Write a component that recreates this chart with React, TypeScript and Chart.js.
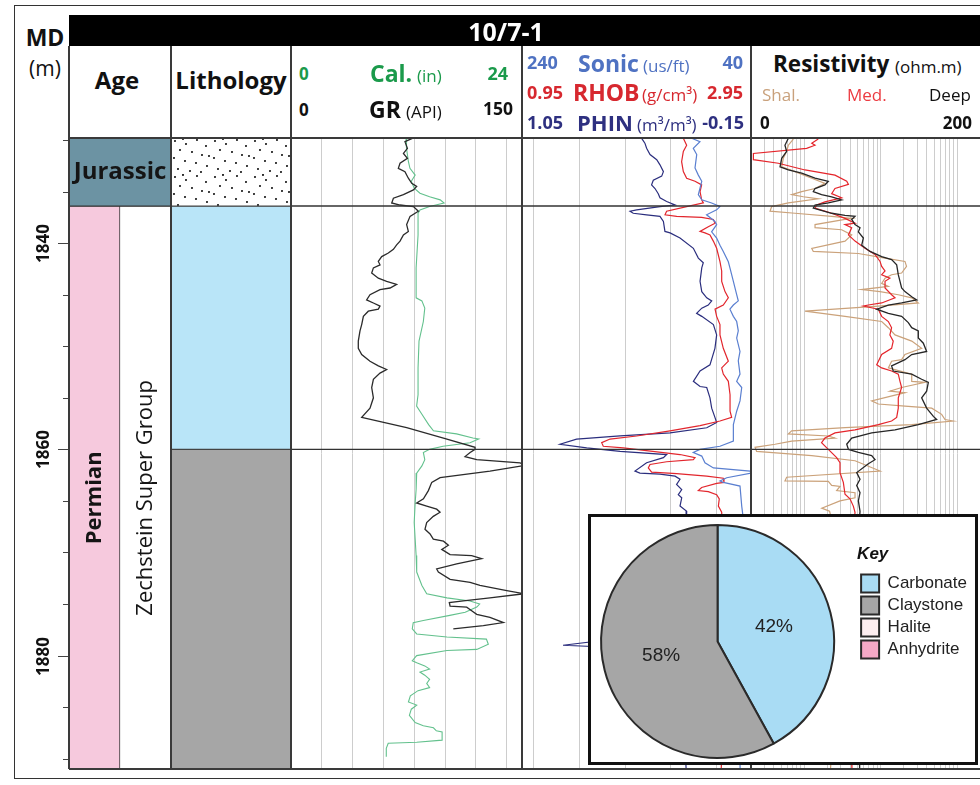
import React, { useEffect, useRef } from 'react';
import { Chart, registerables } from 'chart.js';

Chart.register(...registerables);

const SANS = "'Open Sans', 'Noto Sans', 'DejaVu Sans', sans-serif";
const ARIAL = "'Liberation Sans', Arial, Helvetica, sans-serif";

// ---------------- depth axis ----------------
const DEPTH_MIN = 1829.8;
const DEPTH_MAX = 1891.0;
const DEPTH_LABELLED_TICKS = [1840, 1860, 1880];
const DEPTH_MINOR_TICKS = [1830, 1835, 1845, 1850, 1855, 1865, 1870, 1875, 1885, 1890];
const FORMATION_TOPS = [1836.4, 1860.0];

// ---------------- stratigraphy ----------------
const PERIOD_NAMES = ['Jurassic', 'Permian'];
const PERIOD_TOPS = [1829.8, 1836.4];
const PERIOD_BASES = [1836.4, 1893.0];
const GROUP_NAMES = ['Zechstein Super Group'];
const GROUP_TOPS = [1836.4];
const GROUP_BASES = [1893.0];
const LITH_NAMES = ['Sandstone', 'Carbonate', 'Claystone'];
const LITH_TOPS = [1829.8, 1836.4, 1860.0];
const LITH_BASES = [1836.4, 1860.0, 1893.0];

// ---------------- grid values ----------------
const GR_GRID = [20, 40, 60, 80, 100, 120, 140];
const SONIC_GRID = [230, 190, 150, 110, 70];
const RES_GRID = [0.3, 0.4, 0.5, 0.6, 0.7, 0.8, 0.9, 1, 2, 3, 4, 5, 6, 7, 8, 9, 10, 20, 30, 40, 50, 60, 70, 80, 90, 100];

// ---------------- logs: [depth m, value] ----------------
const GR_LOG: number[][] = [[1829.83,78.8],[1830.15,74.0],[1830.8,75.6],[1831.3,73.0],[1831.77,75.6],[1832.25,70.8],[1832.74,69.7],[1833.06,74.0],[1833.7,76.2],[1834.2,78.4],[1834.5,81.6],[1834.83,79.5],[1835.3,73.0],[1835.64,66.5],[1836.1,65.4],[1836.3,70.8],[1836.45,79.5],[1836.9,82.7],[1837.4,77.3],[1838.2,75.1],[1838.86,76.2],[1839.2,73.0],[1839.8,70.8],[1840.16,68.6],[1840.6,66.5],[1840.96,63.2],[1841.3,58.9],[1841.77,56.7],[1842.1,57.8],[1842.4,53.5],[1842.9,52.4],[1843.4,56.7],[1843.7,62.1],[1844.0,68.6],[1844.35,64.3],[1844.5,57.8],[1845.0,51.3],[1845.5,49.1],[1845.8,53.5],[1846.1,57.8],[1846.4,56.7],[1846.6,50.2],[1847.1,47.0],[1847.9,45.9],[1848.5,44.8],[1849.5,43.7],[1850.2,43.7],[1850.8,45.9],[1851.45,51.3],[1851.9,56.7],[1852.25,62.1],[1852.6,57.8],[1853.2,53.5],[1854.0,52.4],[1855.0,53.5],[1856.0,51.3],[1856.9,45.9],[1857.9,75.1],[1858.9,99.0],[1859.8,119.5],[1860.0,119.5],[1860.3,116.3],[1860.7,113.0],[1861.0,120.6],[1861.3,148.7],[1861.56,151.5],[1862.1,129.2],[1862.75,96.8],[1863.2,91.4],[1864.0,89.2],[1864.8,86.0],[1865.2,81.6],[1865.5,88.1],[1865.8,94.6],[1866.1,96.8],[1866.5,92.4],[1867.1,88.1],[1867.75,87.0],[1868.2,90.3],[1868.7,92.4],[1868.9,99.0],[1869.3,102.2],[1869.7,97.9],[1870.2,103.3],[1870.3,117.3],[1870.6,123.8],[1871.1,107.6],[1871.6,94.6],[1871.9,95.7],[1872.6,103.3],[1872.9,116.3],[1873.2,122.7],[1873.7,140.1],[1874.0,151.5],[1874.4,129.2],[1874.7,111.9],[1874.85,102.8],[1875.2,103.3],[1875.3,114.1],[1875.65,117.3],[1876.0,120.6],[1876.3,129.2],[1876.8,137.9],[1877.1,124.9],[1877.4,105.4]];

const CAL_LOG: number[][] = [[1829.8,11.95],[1830.8,12.0],[1832.1,12.2],[1832.74,12.36],[1833.4,12.9],[1834.0,12.5],[1834.67,12.8],[1835.15,13.4],[1835.5,14.4],[1835.8,15.5],[1836.1,15.9],[1836.45,14.4],[1836.77,13.4],[1837.1,13.2],[1839.2,13.2],[1842.4,13.0],[1845.3,13.0],[1845.6,13.6],[1846.3,13.9],[1847.6,13.75],[1849.5,13.3],[1852.1,13.2],[1854.7,13.2],[1855.8,13.05],[1856.6,13.6],[1857.6,14.3],[1858.2,14.8],[1858.5,17.2],[1858.9,18.9],[1859.0,19.5],[1859.35,18.6],[1859.7,15.8],[1860.0,14.4],[1860.3,13.75],[1861.0,13.9],[1861.6,13.6],[1862.3,13.06],[1863.9,13.0],[1865.2,12.9],[1867.1,12.8],[1868.7,12.9],[1870.3,13.0],[1871.9,13.06],[1873.2,13.6],[1874.0,14.1],[1874.4,16.2],[1874.7,18.6],[1875.0,19.6],[1875.3,19.3],[1875.8,18.1],[1876.1,16.5],[1876.6,13.75],[1876.8,12.7],[1877.4,12.6],[1877.9,13.06],[1878.2,16.2],[1878.4,20.3],[1878.9,20.5],[1879.4,19.3],[1879.5,16.2],[1880.0,13.06],[1880.5,12.6],[1880.7,13.06],[1881.0,13.9],[1881.3,14.4],[1881.6,13.4],[1881.9,13.9],[1882.3,14.4],[1882.7,14.1],[1883.1,14.4],[1883.4,13.2],[1883.9,12.4],[1884.5,12.2],[1884.8,13.06],[1885.2,12.5],[1885.8,12.3],[1886.5,12.9],[1886.8,13.75],[1887.0,14.8],[1887.3,15.1],[1887.4,15.7],[1888.2,15.7],[1888.4,13.06],[1888.5,10.1],[1889.0,9.9],[1889.8,9.9]];

const SONIC_LOG: number[][] = [[1829.83,91.8],[1830.15,84.6],[1830.8,90.4],[1831.4,87.4],[1832.7,88.9],[1833.4,86.0],[1834.0,83.0],[1834.7,84.6],[1835.3,86.0],[1835.8,83.0],[1836.1,74.4],[1836.45,67.1],[1836.77,70.0],[1837.25,78.8],[1837.9,71.5],[1838.2,70.0],[1838.9,74.4],[1839.5,70.0],[1840.2,67.1],[1840.8,64.2],[1841.8,59.8],[1842.4,58.4],[1843.06,56.9],[1843.7,55.4],[1845.0,52.5],[1845.6,51.1],[1846.0,55.4],[1846.4,58.4],[1847.1,55.4],[1847.6,52.5],[1848.5,51.1],[1849.2,52.5],[1850.5,49.6],[1851.4,51.1],[1852.7,49.6],[1853.4,52.5],[1854.0,48.1],[1855.3,49.6],[1856.3,52.5],[1857.6,55.4],[1859.2,55.4],[1859.7,67.1],[1860.0,84.6],[1860.3,90.4],[1860.65,83.0],[1861.3,80.2],[1861.8,72.8],[1862.1,40.8],[1862.3,39.4],[1862.75,61.2],[1863.07,67.1],[1863.2,64.2],[1863.56,49.6],[1865.5,48.1],[1866.3,47.2],[1868.5,50.0],[1871.0,48.5],[1874.0,51.0],[1877.0,49.0],[1880.0,50.5],[1884.0,48.5],[1888.0,50.0],[1891.0,49.5]];

const RHOB_LOG: number[][] = [[1829.83,2.359],[1830.5,2.388],[1831.1,2.359],[1832.1,2.344],[1833.06,2.359],[1833.7,2.388],[1834.0,2.461],[1834.35,2.519],[1835.0,2.505],[1835.8,2.519],[1836.1,2.534],[1836.45,2.388],[1836.9,2.213],[1837.25,2.199],[1837.4,2.301],[1837.5,2.519],[1837.7,2.621],[1838.06,2.636],[1838.4,2.577],[1838.86,2.505],[1839.0,2.548],[1839.2,2.592],[1839.8,2.621],[1840.5,2.650],[1841.8,2.679],[1842.7,2.694],[1843.7,2.694],[1844.7,2.723],[1845.3,2.752],[1846.0,2.708],[1846.4,2.636],[1847.1,2.650],[1847.9,2.679],[1848.9,2.679],[1850.2,2.708],[1851.45,2.752],[1852.1,2.694],[1852.7,2.708],[1853.4,2.752],[1854.7,2.767],[1856.3,2.767],[1856.9,2.781],[1857.25,2.679],[1857.7,2.505],[1858.2,2.243],[1858.7,1.951],[1859.0,1.719],[1859.35,1.646],[1859.7,1.660],[1859.85,1.835],[1860.5,2.330],[1860.8,2.461],[1861.0,2.446],[1861.2,2.213],[1861.46,2.068],[1861.8,2.053],[1862.2,2.082],[1862.36,2.301],[1862.6,2.563],[1862.8,2.708],[1863.2,2.714],[1863.3,2.650],[1863.7,2.519],[1864.0,2.490],[1864.1,2.577],[1864.4,2.650],[1864.8,2.673],[1865.5,2.665],[1866.1,2.694],[1868.5,2.70],[1871.0,2.68],[1874.0,2.72],[1877.0,2.69],[1880.0,2.71],[1884.0,2.68],[1888.0,2.70],[1891.0,2.69]];

const PHIN_LOG: number[][] = [[1829.83,0.423],[1830.3,0.406],[1830.8,0.397],[1831.4,0.379],[1831.9,0.344],[1832.4,0.327],[1833.06,0.309],[1833.5,0.318],[1833.9,0.362],[1834.35,0.371],[1834.7,0.353],[1835.2,0.336],[1835.6,0.327],[1835.96,0.292],[1836.3,0.248],[1836.45,0.327],[1836.77,0.449],[1836.9,0.484],[1837.1,0.467],[1837.25,0.397],[1837.4,0.327],[1837.9,0.309],[1838.86,0.301],[1839.0,0.274],[1839.5,0.222],[1840.5,0.152],[1841.45,0.126],[1841.9,0.100],[1842.4,0.108],[1843.7,0.117],[1844.7,0.108],[1845.3,0.082],[1845.6,0.056],[1846.0,0.074],[1846.3,0.108],[1846.8,0.135],[1847.1,0.108],[1847.9,0.047],[1848.9,0.030],[1850.2,0.039],[1851.8,0.065],[1852.4,0.117],[1853.4,0.152],[1853.9,0.117],[1854.0,0.082],[1855.0,0.065],[1856.0,0.056],[1856.9,0.039],[1857.4,0.030],[1857.9,0.082],[1858.4,0.274],[1858.7,0.536],[1859.0,0.764],[1859.5,0.851],[1859.85,0.711],[1860.2,0.536],[1860.5,0.292],[1860.8,0.309],[1861.3,0.397],[1862.1,0.458],[1862.3,0.432],[1862.4,0.327],[1862.6,0.248],[1862.9,0.222],[1863.4,0.240],[1863.9,0.213],[1864.4,0.231],[1864.7,0.213],[1865.5,0.222],[1866.0,0.187],[1868.5,0.19],[1871.0,0.20],[1874.0,0.18],[1877.6,0.21],[1879.0,0.835],[1879.5,0.20],[1883.0,0.19],[1887.0,0.20],[1891.0,0.19]];

const DEEP_LOG: number[][] = [[1829.83,0.617],[1830.5,0.557],[1831.1,0.586],[1831.77,0.505],[1832.6,0.480],[1832.9,0.617],[1833.2,0.923],[1833.7,1.38],[1834.0,2.06],[1834.35,1.86],[1834.7,1.38],[1835.0,1.31],[1835.3,1.68],[1835.5,2.28],[1835.8,3.08],[1836.1,2.06],[1836.3,1.38],[1836.6,1.31],[1837.1,2.28],[1837.3,3.41],[1837.4,4.61],[1837.7,4.17],[1838.2,4.61],[1838.5,5.36],[1838.9,5.10],[1839.5,5.93],[1840.2,5.64],[1840.8,7.25],[1841.3,10.3],[1841.6,13.9],[1842.1,16.2],[1843.06,17.0],[1843.7,17.9],[1844.35,18.8],[1844.7,20.8],[1845.2,25.5],[1845.5,29.6],[1845.8,18.8],[1846.0,12.6],[1846.4,8.87],[1846.8,12.6],[1847.1,18.8],[1847.7,23.0],[1848.2,25.5],[1848.5,31.1],[1849.2,31.1],[1849.7,36.2],[1850.5,40.0],[1850.8,25.5],[1851.3,20.8],[1851.9,13.9],[1852.4,14.6],[1852.7,25.5],[1853.2,34.4],[1853.5,42.1],[1854.35,40.0],[1855.0,34.4],[1856.0,40.0],[1856.8,49.0],[1857.1,54.1],[1857.6,31.1],[1858.1,15.4],[1858.4,7.62],[1858.9,4.17],[1859.5,3.59],[1860.0,3.78],[1860.3,5.10],[1860.6,7.62],[1861.0,8.43],[1861.4,6.89],[1862.25,4.85],[1862.9,5.36],[1863.5,4.85],[1864.2,5.36],[1865.0,5.10],[1866.0,5.36],[1869.0,5.0],[1872.0,5.5],[1875.0,5.2],[1878.0,5.6],[1881.0,5.1],[1885.0,5.4],[1888.0,5.2],[1891.0,5.3]];

const MED_LOG: number[][] = [[1829.9,1.52],[1830.3,1.25],[1830.5,1.38],[1830.8,1.07],[1831.3,0.215],[1831.9,0.215],[1832.25,0.456],[1832.9,1.02],[1833.4,2.52],[1834.0,3.59],[1834.3,3.78],[1834.7,2.52],[1835.2,2.28],[1835.6,3.08],[1836.0,1.86],[1836.3,1.45],[1836.6,1.38],[1837.1,2.28],[1837.6,3.41],[1838.06,4.61],[1838.2,3.41],[1838.5,4.17],[1839.2,3.78],[1839.8,4.61],[1840.5,6.23],[1841.1,8.43],[1841.77,9.81],[1842.25,10.3],[1842.7,11.4],[1843.06,10.3],[1843.4,13.2],[1843.7,11.4],[1844.35,11.4],[1845.0,13.9],[1845.3,15.4],[1845.8,10.3],[1846.0,6.89],[1846.1,5.93],[1846.4,9.32],[1847.1,10.3],[1847.6,12.6],[1848.2,13.9],[1848.9,13.2],[1849.5,14.6],[1850.2,13.9],[1850.8,10.3],[1851.8,8.87],[1852.1,10.3],[1852.4,13.9],[1852.7,17.0],[1853.4,17.9],[1854.0,18.8],[1855.0,17.0],[1856.0,17.0],[1856.9,16.2],[1857.25,13.9],[1857.6,9.32],[1858.1,4.61],[1858.4,2.52],[1858.9,1.86],[1859.35,1.68],[1860.0,2.06],[1860.8,2.65],[1861.3,2.93],[1862.25,2.93],[1863.2,3.24],[1864.35,3.41],[1864.8,3.96],[1865.5,4.38],[1866.1,4.61],[1869.0,4.2],[1872.0,4.5],[1875.0,4.1],[1878.0,4.4],[1881.0,4.0],[1885.0,4.3],[1888.0,4.1],[1891.0,4.2]];

const SHAL_LOG: number[][] = [[1829.9,0.718],[1830.5,0.617],[1831.1,0.586],[1831.77,0.530],[1832.6,0.505],[1833.06,0.754],[1833.7,1.25],[1834.2,1.86],[1834.7,1.38],[1835.0,0.923],[1835.3,0.682],[1835.5,0.970],[1835.7,1.52],[1836.1,0.617],[1836.45,0.373],[1836.9,0.355],[1837.1,0.754],[1837.4,2.28],[1837.6,4.17],[1837.7,3.41],[1838.2,1.38],[1838.5,1.38],[1838.7,3.08],[1839.2,4.17],[1839.8,3.41],[1840.5,1.25],[1840.8,1.31],[1841.0,5.10],[1841.45,11.4],[1841.77,20.8],[1842.25,21.8],[1842.9,18.8],[1843.06,13.9],[1843.4,11.4],[1843.9,10.3],[1844.2,12.6],[1844.5,5.64],[1844.7,9.81],[1845.0,17.0],[1845.3,25.5],[1845.8,31.1],[1846.1,9.32],[1846.6,1.02],[1847.1,3.41],[1847.6,10.3],[1848.2,12.6],[1848.9,15.4],[1849.5,25.5],[1850.2,34.4],[1850.8,20.8],[1851.3,18.8],[1851.45,13.9],[1852.1,12.6],[1852.7,25.5],[1853.4,25.5],[1853.5,38.1],[1854.0,18.8],[1854.35,13.2],[1854.5,20.8],[1855.3,7.62],[1855.6,9.32],[1855.8,20.8],[1856.0,46.6],[1856.6,62.9],[1857.1,69.6],[1857.25,89.1],[1857.6,25.5],[1857.9,3.41],[1858.2,0.682],[1858.5,0.617],[1858.7,2.06],[1858.9,2.52],[1859.2,0.682],[1859.5,0.413],[1859.8,0.226],[1860.2,0.237],[1860.6,1.25],[1861.1,4.61],[1862.1,9.81],[1862.7,0.586],[1863.06,0.557],[1863.1,2.06],[1863.5,2.28],[1863.6,2.93],[1864.0,2.65],[1864.2,4.61],[1864.7,4.61],[1865.0,2.93],[1865.7,1.69],[1866.0,2.14],[1868.0,2.5],[1870.0,1.5],[1872.0,3.0],[1875.0,2.0],[1878.0,3.5],[1880.0,1.8],[1885.0,2.5],[1891.0,2.2]];

// ---------------- pie ----------------
const PIE_LABELS = ['Carbonate', 'Claystone', 'Halite', 'Anhydrite'];
const PIE_VALUES = [42, 58, 0, 0];

// ---------------- styles ----------------
const PERIOD_COLORS = ['#6c93a3', '#f6c9dd'];
const LITH_COLORS = ['sand', '#b9e5f8', '#a6a6a6'];
const PIE_COLORS = ['#a9dcf4', '#a6a6a6', '#fdeef0', '#f4a9c6'];
const SAND_DOT_TILE = [[4,3],[15,6],[26,2],[35,8],[9,12],[21,14],[31,17],[3,20],[14,23],[25,25],[36,28],[7,31],[19,33],[30,34],[12,1],[38,18]];
const C_GREEN = '#1b9a4b', C_BLUE = '#4f72c2', C_RED = '#d7282f', C_NAVY = '#2e3080', C_TAN = '#c9a17c', C_MED = '#ec3b41';

const depthAxis = { type: 'linear', reverse: true, min: DEPTH_MIN, max: DEPTH_MAX, display: false, beginAtZero: false };

const gridAxis = (type: string, min: number, max: number, ticks: number[], reverse = false) => ({
  type, min, max, reverse, position: 'bottom',
  afterBuildTicks: (s: any) => { s.ticks = ticks.map((v) => ({ value: v })); },
  ticks: { display: false },
  grid: { color: '#cdcdcd', lineWidth: 1, drawTicks: false },
  border: { display: false },
});
const hiddenAxis = (type: string, min: number, max: number, reverse = false) => ({ type, min, max, reverse, display: false });

const curve = (label: string, pts: number[][], axis: string, color: string, width: number) => ({
  label,
  data: pts.map(([d, v]) => ({ x: v, y: d })),
  xAxisID: axis, yAxisID: 'y', showLine: true, pointRadius: 0,
  borderColor: color, borderWidth: width, tension: 0, fill: false,
});

const boundaryPlugin = {
  id: 'boundaries',
  afterDatasetsDraw(chart: any) {
    const { ctx, chartArea, scales } = chart;
    ctx.save();
    ctx.strokeStyle = '#333';
    ctx.lineWidth = 1.4;
    FORMATION_TOPS.forEach((d) => {
      const y = scales.y.getPixelForValue(d);
      ctx.beginPath(); ctx.moveTo(chartArea.left, y); ctx.lineTo(chartArea.right, y); ctx.stroke();
    });
    ctx.restore();
  },
};

const depthTickPlugin = {
  id: 'depthTicks',
  afterDraw(chart: any) {
    const { ctx, chartArea, scales } = chart;
    ctx.save();
    ctx.strokeStyle = '#444';
    ctx.lineWidth = 1;
    const tick = (d: number, len: number) => {
      const y = Math.round(scales.y.getPixelForValue(d)) + 0.5;
      ctx.beginPath(); ctx.moveTo(chartArea.left - len, y); ctx.lineTo(chartArea.left, y); ctx.stroke();
      return y;
    };
    DEPTH_MINOR_TICKS.forEach((d) => tick(d, 6));
    ctx.fillStyle = '#111';
    ctx.font = `bold 17px ${SANS}`;
    ctx.textAlign = 'center';
    ctx.textBaseline = 'middle';
    DEPTH_LABELLED_TICKS.forEach((d) => {
      const y = tick(d, 11);
      ctx.save();
      ctx.translate(chartArea.left - 25, y);
      ctx.rotate(-Math.PI / 2);
      ctx.fillText(String(d), 0, 0);
      ctx.restore();
    });
    ctx.restore();
  },
};

const unitLabelPlugin = {
  id: 'unitLabels',
  afterDatasetsDraw(chart: any) {
    const { ctx, chartArea } = chart;
    ctx.save();
    ctx.fillStyle = '#151515';
    ctx.textAlign = 'center';
    ctx.textBaseline = 'middle';
    chart.data.datasets.forEach((ds: any, di: number) => {
      const meta = chart.getDatasetMeta(di);
      const els = meta.data.filter((_: any, i: number) => ds.data[i]);
      if (!els.length) return;
      const x = els.reduce((s: number, e: any) => s + e.x, 0) / els.length;
      const e0 = els[0];
      const top = Math.max(Math.min(e0.y, e0.base), chartArea.top);
      const bot = Math.max(e0.y, e0.base);
      const y = (top + bot) / 2;
      ctx.font = `${ds.unitKind === 'group' ? '400' : 'bold'} ${els.length > 1 ? 24 : 22}px ${SANS}`;
      if (els.length > 1) {
        ctx.fillText(ds.label, x, y);
      } else {
        ctx.save(); ctx.translate(x, y); ctx.rotate(-Math.PI / 2); ctx.fillText(ds.label, 0, 0); ctx.restore();
      }
    });
    ctx.restore();
  },
};

const pieLabelPlugin = {
  id: 'pieLabels',
  afterDatasetsDraw(chart: any) {
    const { ctx } = chart;
    const meta = chart.getDatasetMeta(0);
    ctx.save();
    ctx.fillStyle = '#222';
    ctx.font = `19px ${ARIAL}`;
    ctx.textAlign = 'center';
    ctx.textBaseline = 'middle';
    meta.data.forEach((arc: any, i: number) => {
      if (!PIE_VALUES[i]) return;
      const p = arc.tooltipPosition(true);
      ctx.fillText(`${PIE_VALUES[i]}%`, p.x, p.y);
    });
    ctx.restore();
  },
};

const baseOptions = (scales: any, extra: any = {}) => ({
  responsive: false, animation: false, events: [],
  layout: { padding: 0 },
  plugins: { legend: { display: false }, tooltip: { enabled: false } },
  scales,
  ...extra,
});

function sandPattern() {
  const tile = document.createElement('canvas');
  tile.width = 40; tile.height = 36;
  const g = tile.getContext('2d')!;
  g.fillStyle = '#ffffff'; g.fillRect(0, 0, 40, 36);
  g.fillStyle = '#111';
  SAND_DOT_TILE.forEach(([x, y]) => { g.beginPath(); g.arc(x, y, 1.05, 0, Math.PI * 2); g.fill(); });
  return g.createPattern(tile, 'repeat');
}

const makeAge = () => {
  const overlaps = (t: number, b: number) => GROUP_TOPS.some((gt, g) => gt < b && GROUP_BASES[g] > t);
  const periodSets = PERIOD_NAMES.map((name, i) => {
    const iv = [PERIOD_TOPS[i], PERIOD_BASES[i]];
    const span = !overlaps(PERIOD_TOPS[i], PERIOD_BASES[i]);
    return {
      label: name, unitKind: 'period',
      data: [iv, span ? iv : null],
      backgroundColor: PERIOD_COLORS[i],
      borderWidth: (c: any) => span
        ? (c.dataIndex === 0 ? { top: 1, bottom: 1, left: 1, right: 0 } : { top: 1, bottom: 1, left: 0, right: 1 })
        : { top: 1, bottom: 1, left: 1, right: 1 },
    };
  });
  const groupSets = GROUP_NAMES.map((name, g) => ({
    label: name, unitKind: 'group',
    data: [null, [GROUP_TOPS[g], GROUP_BASES[g]]],
    backgroundColor: '#ffffff',
    borderWidth: { top: 1, bottom: 1, left: 0, right: 1 },
  }));
  return {
    type: 'bar',
    data: {
      labels: ['Period', 'Group'],
      datasets: [...periodSets, ...groupSets].map((d) => ({
        ...d, grouped: false, barPercentage: 1, categoryPercentage: 1, borderSkipped: false, borderColor: '#333',
      })),
    },
    options: baseOptions({ x: { type: 'category', display: false }, y: depthAxis }, { layout: { padding: { left: 55 } } }),
    plugins: [unitLabelPlugin, depthTickPlugin],
  };
};

const makeLith = () => {
  const pat = sandPattern();
  return {
    type: 'bar',
    data: {
      labels: ['Lithology'],
      datasets: LITH_NAMES.map((name, i) => ({
        label: name,
        data: [[LITH_TOPS[i], LITH_BASES[i]]],
        backgroundColor: LITH_COLORS[i] === 'sand' ? pat : LITH_COLORS[i],
        borderColor: '#444', borderWidth: 1, borderSkipped: false,
        grouped: false, barPercentage: 1, categoryPercentage: 1,
      })),
    },
    options: baseOptions({ x: { type: 'category', display: false }, y: depthAxis }),
  };
};

const makeGR = () => ({
  type: 'scatter',
  data: {
    datasets: [
      curve('GR', GR_LOG, 'xGR', '#2b2b2b', 1.3),
      curve('Cal.', CAL_LOG, 'xCal', '#63c18d', 1.1),
    ],
  },
  options: baseOptions({
    y: depthAxis,
    xGR: gridAxis('linear', 0, 150, GR_GRID),
    xCal: hiddenAxis('linear', 0, 24),
  }),
  plugins: [boundaryPlugin],
});

const makeSonic = () => ({
  type: 'scatter',
  data: {
    datasets: [
      curve('Sonic', SONIC_LOG, 'xSonic', '#5a7fd0', 1.2),
      curve('RHOB', RHOB_LOG, 'xRhob', '#e2262d', 1.2),
      curve('PHIN', PHIN_LOG, 'xPhin', '#2b2e7e', 1.2),
    ],
  },
  options: baseOptions({
    y: depthAxis,
    xSonic: gridAxis('linear', 40, 240, SONIC_GRID, true),
    xRhob: hiddenAxis('linear', 0.95, 2.95),
    xPhin: hiddenAxis('linear', -0.15, 1.05, true),
  }),
  plugins: [boundaryPlugin],
});

const makeRes = () => ({
  type: 'scatter',
  data: {
    datasets: [
      curve('Deep', DEEP_LOG, 'xRes', '#262626', 1.3),
      curve('Med.', MED_LOG, 'xRes', '#e5252b', 1.2),
      curve('Shal.', SHAL_LOG, 'xRes', '#cba27a', 1.2),
    ],
  },
  options: baseOptions({
    y: depthAxis,
    xRes: gridAxis('logarithmic', 0.2, 200, RES_GRID),
  }),
  plugins: [boundaryPlugin],
});

const makePie = () => ({
  type: 'pie',
  data: {
    labels: PIE_LABELS,
    datasets: [{ data: PIE_VALUES, backgroundColor: PIE_COLORS, borderColor: '#2a2a2a', borderWidth: 2 }],
  },
  options: {
    responsive: false, animation: false, events: [],
    layout: { padding: { top: 7, bottom: 3, left: 0, right: 3 } },
    plugins: {
      tooltip: { enabled: false },
      legend: {
        position: 'right', align: 'start',
        title: { display: true, text: 'Key', position: 'start', color: '#111', font: { family: ARIAL, size: 17, style: 'italic', weight: 'bold' }, padding: { top: 22, bottom: 4 } },
        labels: { boxWidth: 18, boxHeight: 18, padding: 4, color: '#222', font: { family: ARIAL, size: 17 } },
      },
    },
  },
  plugins: [pieLabelPlugin],
});

function ChartCanvas({ left, top, width, height, make, z = 1 }: { left: number; top: number; width: number; height: number; make: () => any; z?: number }) {
  const ref = useRef<HTMLCanvasElement | null>(null);
  useEffect(() => {
    if (!ref.current) return;
    const chart = new Chart(ref.current, make());
    return () => chart.destroy();
  }, []);
  return <canvas ref={ref} width={width} height={height} style={{ position: 'absolute', left, top, width, height, zIndex: z }} />;
}

type TxtProps = { x: number; y: number; s: number; t: string; b?: boolean; c?: string; a?: 'l' | 'c' | 'r' };
const Txt = ({ x, y, s, t, b, c = '#111', a = 'l' }: TxtProps) => (
  <div style={{
    position: 'absolute', left: x, top: y, zIndex: 3,
    transform: `translate(${a === 'l' ? '0' : a === 'c' ? '-50%' : '-100%'}, -50%)`,
    fontFamily: SANS, fontSize: s, fontWeight: b ? 700 : 400, color: c, lineHeight: 1, whiteSpace: 'nowrap',
  }}>{t}</div>
);

const VLine = ({ x, y1, y2, w = 1.5, c = '#3a3a3a' }: { x: number; y1: number; y2: number; w?: number; c?: string }) => (
  <div style={{ position: 'absolute', left: x - w / 2, top: y1, width: w, height: y2 - y1, background: c, zIndex: 2 }} />
);
const HLine = ({ y, x1, x2, w = 1.5, c = '#3a3a3a' }: { y: number; x1: number; x2: number; w?: number; c?: string }) => (
  <div style={{ position: 'absolute', left: x1, top: y - w / 2, width: x2 - x1, height: w, background: c, zIndex: 2 }} />
);

export default function App() {
  return (
    <div style={{ position: 'absolute', left: 0, top: 0, width: 980, height: 785, overflow: 'hidden', background: '#fff' }}>
      {/* outer frame */}
      <div style={{ position: 'absolute', left: 14, top: 5, width: 1000, height: 774, border: '1px solid #333', boxSizing: 'border-box' }} />
      {/* title bar */}
      <div style={{ position: 'absolute', left: 69, top: 15, width: 911, height: 31, background: '#000' }} />
      <Txt x={506} y={31} s={25} b c="#fff" a="c" t="10/7-1" />

      {/* charts */}
      <ChartCanvas left={14} top={138} width={157} height={631} make={makeAge} />
      <ChartCanvas left={171} top={138} width={120} height={631} make={makeLith} />
      <ChartCanvas left={291} top={138} width={231} height={631} make={makeGR} />
      <ChartCanvas left={522} top={138} width={229} height={631} make={makeSonic} />
      <ChartCanvas left={751} top={138} width={229} height={631} make={makeRes} />

      {/* frame lines */}
      <VLine x={69} y1={46} y2={769} />
      <VLine x={171} y1={46} y2={769} />
      <VLine x={291} y1={46} y2={769} />
      <VLine x={522} y1={46} y2={769} />
      <VLine x={751} y1={46} y2={769} />
      <HLine y={138} x1={69} x2={980} />
      <HLine y={769} x1={69} x2={980} />

      {/* left header */}
      <Txt x={45} y={37} s={23} b a="c" t="MD" />
      <Txt x={45} y={68} s={21} a="c" t="(m)" />
      <Txt x={117} y={80} s={24} b a="c" t="Age" />
      <Txt x={231} y={80} s={24} b a="c" t="Lithology" />

      {/* GR header */}
      <Txt x={299} y={73} s={17} b c={C_GREEN} t="0" />
      <Txt x={370} y={73} s={23} b c={C_GREEN} t="Cal." />
      <Txt x={417} y={75} s={17} c={C_GREEN} t="(in)" />
      <Txt x={508} y={73} s={18} b c={C_GREEN} a="r" t="24" />
      <Txt x={299} y={109} s={17} b t="0" />
      <Txt x={369} y={109} s={23} b t="GR" />
      <Txt x={406} y={111} s={17} t="(API)" />
      <Txt x={513} y={109} s={17.5} b a="r" t="150" />

      {/* Sonic/RHOB/PHIN header */}
      <Txt x={527} y={62} s={18} b c={C_BLUE} t="240" />
      <Txt x={578} y={63} s={23} b c={C_BLUE} t="Sonic" />
      <Txt x={643} y={65} s={17} c={C_BLUE} t="(us/ft)" />
      <Txt x={743} y={62} s={18} b c={C_BLUE} a="r" t="40" />
      <Txt x={527} y={92} s={18} b c={C_RED} t="0.95" />
      <Txt x={573} y={92} s={23} b c={C_RED} t="RHOB" />
      <Txt x={642} y={94} s={17} c={C_RED} t="(g/cm³)" />
      <Txt x={743} y={92} s={18} b c={C_RED} a="r" t="2.95" />
      <Txt x={527} y={122} s={18} b c={C_NAVY} t="1.05" />
      <Txt x={577} y={122} s={22} b c={C_NAVY} t="PHIN" />
      <Txt x={637} y={124} s={17} c={C_NAVY} t="(m³/m³)" />
      <Txt x={744} y={122} s={18} b c={C_NAVY} a="r" t="-0.15" />

      {/* Resistivity header */}
      <Txt x={773} y={64} s={22.5} b t="Resistivity" />
      <Txt x={895} y={66} s={17} t="(ohm.m)" />
      <Txt x={762} y={94} s={17} c={C_TAN} t="Shal." />
      <Txt x={847} y={94} s={17} c={C_MED} t="Med." />
      <Txt x={929} y={94} s={17} t="Deep" />
      <Txt x={760} y={122} s={17} b t="0" />
      <Txt x={972} y={122} s={17} b a="r" t="200" />

      {/* pie inset */}
      <div style={{ position: 'absolute', left: 588, top: 514, width: 390, height: 251, border: '3px solid #111', boxSizing: 'border-box', background: '#fff', zIndex: 4 }} />
      <ChartCanvas left={578} top={517} width={402} height={245} make={makePie} z={5} />
    </div>
  );
}
